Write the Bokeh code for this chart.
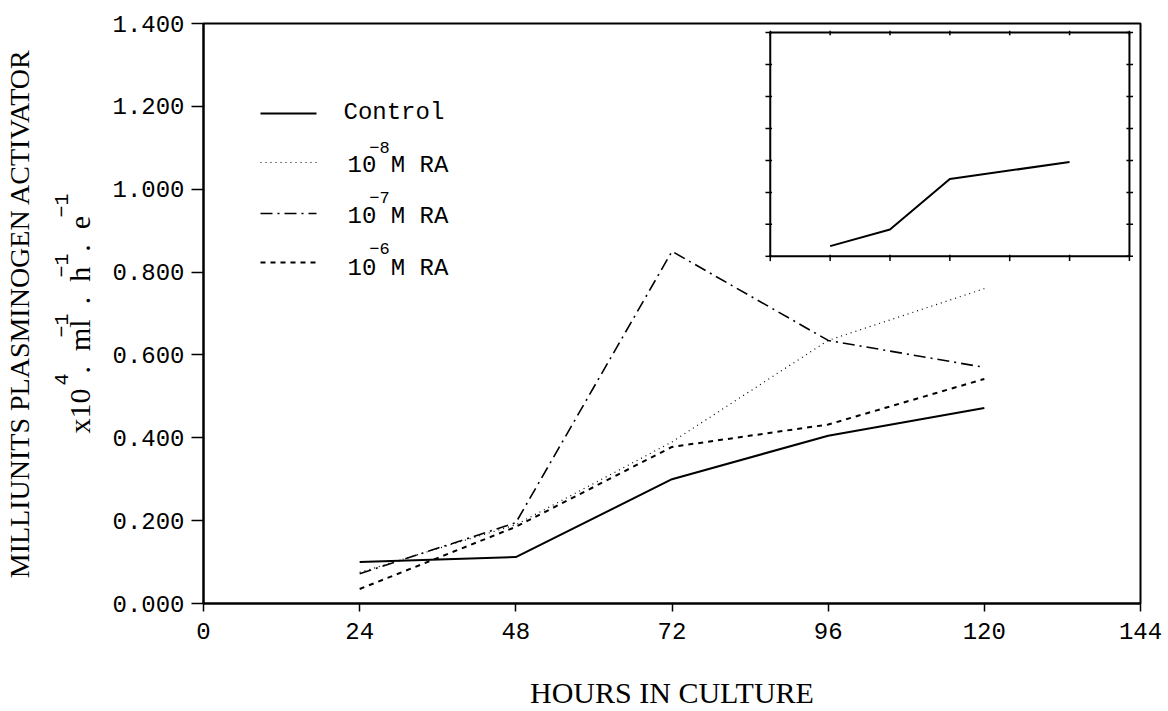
from bokeh.core.properties import value
from bokeh.embed import file_html
from bokeh.models import FixedTicker, LinearAxis, NumeralTickFormatter, Range1d
from bokeh.plotting import figure
from bokeh.resources import INLINE

# ---- data -------------------------------------------------------------
hours = [24, 48, 72, 96, 120]
control = [0.100, 0.112, 0.300, 0.405, 0.472]
ra_1e_8 = [0.075, 0.190, 0.390, 0.635, 0.760]
ra_1e_7 = [0.072, 0.195, 0.850, 0.635, 0.570]
ra_1e_6 = [0.035, 0.185, 0.378, 0.432, 0.542]

x_ticks = [0, 24, 48, 72, 96, 120, 144]
y_ticks = [0.0, 0.2, 0.4, 0.6, 0.8, 1.0, 1.2, 1.4]

# small inset panel (unlabelled axes)
inset_x = [1, 2, 3, 5]
inset_y = [0.32, 0.84, 2.42, 2.95]
inset_x_ticks = [0, 1, 2, 3, 4, 5, 6]
inset_y_ticks = [0, 1, 2, 3, 4, 5, 6, 7]

legend_labels = ["Control", "10 M RA", "10 M RA", "10 M RA"]
legend_powers = ["\u22128", "\u22127", "\u22126"]

NB = "\u00a0"  # non-breaking space keeps padding inside axis titles
SEP = NB * 2 + "." + NB * 2
x_title = "HOURS IN CULTURE"
y_title = "MILLIUNITS PLASMINOGEN ACTIVATOR"
y_units = "x10" + SEP + "ml" + SEP + "h" + SEP + "e" + NB * 3
y_powers = NB * 4 + "4" + NB * 3 + "\u22121" + NB * 3 + "\u22121" + NB * 3 + "\u22121"

# ---- layout -----------------------------------------------------------
W, H = 1168, 711
LEFT, RIGHT, TOP, BOTTOM = 203, 1140, 23, 603
FW, FH = RIGHT - LEFT, BOTTOM - TOP

MONO = "Liberation Mono"
SERIF = "Liberation Serif"

p = figure(
    width=W, height=H,
    x_range=Range1d(0, 144), y_range=Range1d(0, 1.4),
    output_backend="svg", toolbar_location=None,
    min_border_left=LEFT, min_border_right=W - RIGHT,
    min_border_top=TOP, min_border_bottom=H - BOTTOM,
    background_fill_color="white", border_fill_color="white",
)
p.grid.visible = False
p.outline_line_color = "black"
p.outline_line_width = 2

p.xaxis.ticker = FixedTicker(ticks=x_ticks)
p.yaxis.ticker = FixedTicker(ticks=y_ticks)
p.yaxis.formatter = NumeralTickFormatter(format="0.000")
for ax in (p.xaxis, p.yaxis):
    ax.axis_line_color = "black"
    ax.axis_line_width = 2
    ax.major_tick_line_color = "black"
    ax.major_tick_line_width = 1.5
    ax.major_tick_in = 0
    ax.minor_tick_line_color = None
    ax.major_label_text_font = MONO
    ax.major_label_text_color = "black"
    ax.major_label_text_font_size = "24px"
    ax.axis_label_text_font = SERIF
    ax.axis_label_text_font_style = "normal"
    ax.axis_label_text_color = "black"

p.xaxis.major_tick_out = 8
p.xaxis.major_label_standoff = 11
p.xaxis.axis_label = x_title
p.xaxis.axis_label_text_font_size = "30px"
p.xaxis.axis_label_standoff = 34

p.yaxis.major_tick_out = 12
p.yaxis.major_label_standoff = 7
p.yaxis.axis_label = y_units
p.yaxis.axis_label_text_font_size = "30px"
p.yaxis.axis_label_standoff = 13


def title_axis(text, font, size, standoff):
    ax = LinearAxis(
        ticker=FixedTicker(ticks=[]), axis_line_color=None,
        major_tick_out=0, major_tick_in=0, major_label_standoff=0,
        minor_tick_line_color=None, major_tick_line_color=None,
        axis_label=text, axis_label_text_font=font,
        axis_label_text_font_size=size, axis_label_text_font_style="normal",
        axis_label_text_color="black", axis_label_standoff=standoff,
    )
    p.add_layout(ax, "left")


title_axis(y_powers, MONO, "20px", -13)
title_axis(y_title, SERIF, "28px", 13)

# ---- series -----------------------------------------------------------
p.line(hours, control, line_color="black", line_width=2)
p.line(hours, ra_1e_8, line_color="black", line_width=1.2, line_dash="1 4")
p.line(hours, ra_1e_7, line_color="black", line_width=1.6, line_dash="12 5 2 5")
p.line(hours, ra_1e_6, line_color="black", line_width=2, line_dash="5 5")

# ---- inset panel ------------------------------------------------------
ins = p.subplot(
    x_source=Range1d(0, 6), y_source=Range1d(0, 7),
    x_target=Range1d(87.1, 142.3), y_target=Range1d(0.838, 1.378),
)
ins.quad(left=0, right=6, bottom=0, top=7, fill_color="white",
         line_color="black", line_width=2)
nx, ny = len(inset_x_ticks), len(inset_y_ticks)
ins.segment(x0=inset_x_ticks, x1=inset_x_ticks, y0=[-0.15] * nx, y1=[0.05] * nx,
            line_color="black", line_width=1.5)
ins.segment(x0=inset_x_ticks, x1=inset_x_ticks, y0=[6.92] * nx, y1=[7.06] * nx,
            line_color="black", line_width=1.5)
ins.segment(x0=[-0.08] * ny, x1=[0.03] * ny, y0=inset_y_ticks, y1=inset_y_ticks,
            line_color="black", line_width=1.5)
ins.segment(x0=[5.95] * ny, x1=[6.06] * ny, y0=inset_y_ticks, y1=inset_y_ticks,
            line_color="black", line_width=1.5)
ins.line(inset_x, inset_y, line_color="black", line_width=2)

# ---- legend (frame pixel coordinates, origin at the frame's bottom-left) ----
pix = p.subplot(
    x_source=Range1d(0, FW), y_source=Range1d(0, FH),
    x_target=p.x_range, y_target=p.y_range,
)


def fx(cx):
    return cx - LEFT


def fy(cy):
    return BOTTOM - cy


sample_y = [113, 162, 213, 262]
text_y = [112, 165, 216, 268]
power_y = [147, 197, 248]
dashes = ["solid", "1 4", "12 5 2 5", "5 5"]
widths = [2, 1.2, 1.6, 2]
for i, cy in enumerate(sample_y):
    pix.line([fx(260), fx(316)], [fy(cy), fy(cy)], line_color="black",
             line_width=widths[i], line_dash=dashes[i])

pix.text(x=[fx(343), fx(347), fx(347), fx(347)], y=[fy(c) for c in text_y],
         text=legend_labels, text_font=value(MONO), text_font_size="24px",
         text_color="black", text_align="left", text_baseline="middle")
pix.text(x=[fx(379)] * 3, y=[fy(c) for c in power_y], text=legend_powers,
         text_font=value(MONO), text_font_size="17px", text_color="black",
         text_align="center", text_baseline="middle")

open("out.html", "w").write(file_html(p, INLINE))
